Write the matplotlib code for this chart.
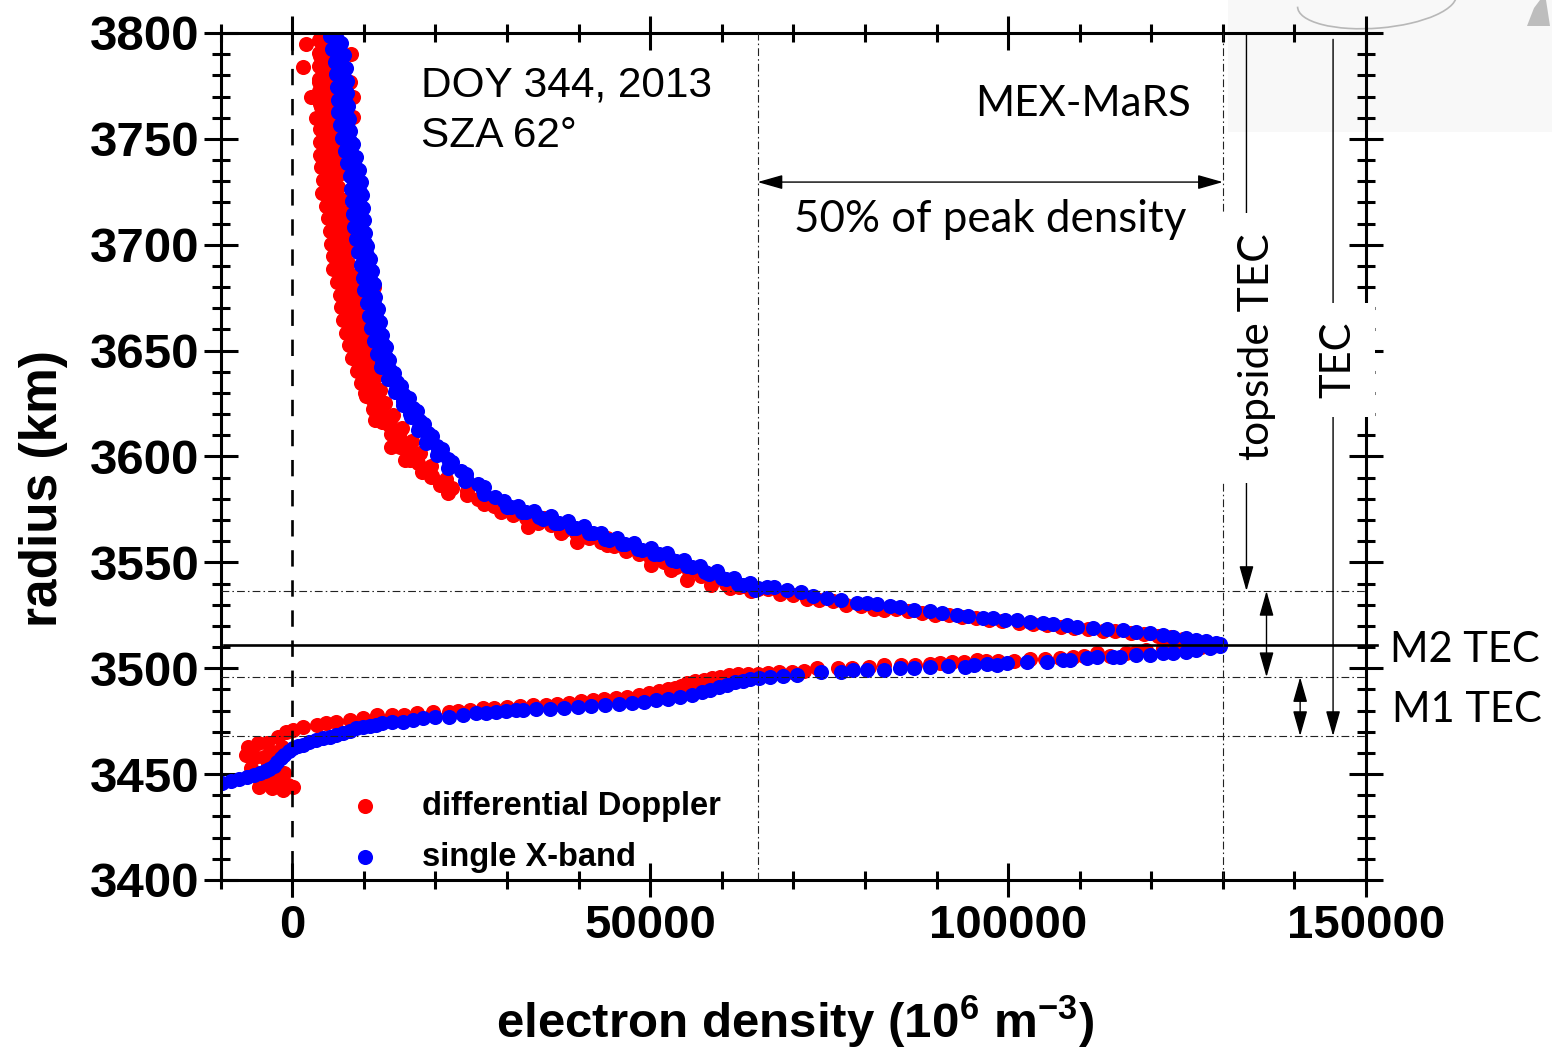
import matplotlib
matplotlib.use("Agg")
import matplotlib.pyplot as plt
from matplotlib import font_manager as fm
from matplotlib.patches import Rectangle, Arc, Polygon
from matplotlib.ticker import MultipleLocator

# ---------------------------------------------------------------------------
# Electron density profile, DOY 344 2013 (densities in units of 1000 x 10^6 m^-3)
# ---------------------------------------------------------------------------
# single X-band: topside branch (from the top of the profile down to the peak)
blue_top_n = [5.6, 6.2, 5.9, 6.6, 6.3, 7.0, 6.5, 7.2, 6.6, 7.3, 6.8, 7.5, 6.9, 7.6, 7.0, 7.8,
              7.3, 8.1, 7.6, 8.4, 8.0, 8.8, 8.4, 9.1, 8.6, 9.4, 8.8, 9.5, 8.9, 9.6, 9.0, 9.7,
              9.2, 10.1, 9.6, 10.4, 9.9, 10.7, 10.2, 11.0, 10.4, 11.2, 10.7, 11.6, 11.1, 11.9,
              11.3, 12.1, 11.8, 12.7, 12.2, 13.1, 12.6, 13.7, 13.6, 14.6, 14.5, 15.6, 15.4,
              16.8, 16.5, 17.9, 17.7, 18.9, 18.8, 20.2, 20.4, 21.8, 22.1, 23.6, 24.2, 25.9,
              26.6, 28.3,
              # interleaved samples of the same sweep
              5.3, 6.8, 5.6, 7.2, 6.0, 7.5, 6.15, 7.6, 6.25, 7.7, 6.35, 7.8, 6.45, 7.9, 6.6,
              8.1, 6.9, 8.5, 7.3, 8.9, 7.7, 9.3, 8.05, 9.55, 8.25, 9.75, 8.4, 9.85, 8.5, 9.95,
              8.6, 10.1, 8.9, 10.5, 9.25, 10.8, 9.55, 11.1, 9.85, 11.35, 10.05, 11.6, 10.4,
              12.0, 10.75, 12.25, 10.95, 12.55, 11.45, 13.1, 11.9, 13.5, 12.4, 14.25, 13.35,
              15.25, 14.35, 16.25, 15.4, 17.4, 16.55, 18.45, 17.5, 19.45, 18.75, 20.9, 20.25,
              22.35, 21.8, 24.3, 24.15, 26.85, 26.8,
              # knee and steep descent
              29.6, 30.5, 31.5, 32.6, 33.8, 35.0, 36.1, 37.2, 38.5, 39.7, 40.8, 42.0, 43.1,
              44.3, 45.4, 46.5, 47.7, 48.9, 50.1, 51.2, 52.4, 53.6, 54.7, 55.8, 57.0, 58.2,
              59.4, 60.6, 61.7, 62.9, 64.0, 65.1,
              30.0, 32.1, 34.4, 36.7, 39.1, 41.4, 43.7, 46.0, 48.3, 50.6, 53.0, 55.2, 57.6,
              60.0, 62.3, 64.6,
              # flat part towards the peak
              66.3, 67.3, 69.1, 71.0, 72.8, 74.7, 76.6, 78.9, 80.3, 81.7, 83.5, 84.9, 86.8,
              89.1, 90.7, 92.8, 94.4, 96.5, 97.9, 99.5, 101.2, 103.1, 104.9, 106.3, 108.2,
              109.6, 111.9, 113.8, 116.1, 117.9, 119.8, 121.7, 123.1, 124.9, 126.3, 127.7,
              129.1, 129.6]
blue_top_r = [3799.5, 3797, 3794, 3791, 3788, 3785, 3782, 3779, 3776, 3773, 3770, 3767, 3764,
              3761, 3758, 3755, 3752, 3749, 3746, 3743, 3740, 3737, 3734, 3731, 3728, 3725,
              3722, 3719, 3716, 3713, 3710, 3707, 3704, 3701, 3698, 3695, 3692, 3689, 3686,
              3683, 3680, 3677, 3674, 3671, 3668, 3665, 3662, 3659, 3656, 3653, 3650, 3647,
              3644, 3641, 3638, 3635, 3632, 3629, 3626, 3623, 3620, 3617, 3614, 3611, 3608,
              3605, 3602, 3599, 3596, 3593, 3590, 3587, 3584, 3581,
              3798.5, 3795.5, 3792.5, 3789.5, 3786.5, 3783.5, 3780.5, 3777.5, 3774.5, 3771.5,
              3768.5, 3765.5, 3762.5, 3759.5, 3756.5, 3753.5, 3750.5, 3747.5, 3744.5, 3741.5,
              3738.5, 3735.5, 3732.5, 3729.5, 3726.5, 3723.5, 3720.5, 3717.5, 3714.5, 3711.5,
              3708.5, 3705.5, 3702.5, 3699.5, 3696.5, 3693.5, 3690.5, 3687.5, 3684.5, 3681.5,
              3678.5, 3675.5, 3672.5, 3669.5, 3666.5, 3663.5, 3660.5, 3657.5, 3654.5, 3651.5,
              3648.5, 3645.5, 3642.5, 3639.5, 3636.5, 3633.5, 3630.5, 3627.5, 3624.5, 3621.5,
              3618.5, 3615.5, 3612.5, 3609.5, 3606.5, 3603.5, 3600.5, 3597.5, 3594.5, 3591.5,
              3588.5, 3585.5, 3582.5,
              3578.9, 3576.2, 3576.5, 3573.6, 3574.1, 3570.7, 3571.8, 3568.8, 3569.4, 3566.2,
              3567.1, 3563.7, 3563.9, 3560.5, 3561.6, 3558.6, 3559.2, 3555.9, 3556.9, 3553.8,
              3554.5, 3550.8, 3551.3, 3548.0, 3548.2, 3544.7, 3545.8, 3542.3, 3542.7, 3539.4,
              3540.3, 3537.9,
              3576.0, 3573.6, 3571.2, 3568.8, 3566.4, 3563.7, 3560.9, 3558.5, 3556.3, 3553.9,
              3551.1, 3548.1, 3545.3, 3542.7, 3539.6, 3537.1,
              3538.5, 3538.2, 3536.9, 3536.0, 3534.2, 3533.2, 3532.4, 3530.9, 3530.8, 3530.5,
              3529.4, 3528.7, 3527.7, 3527.0, 3526.0, 3525.2, 3524.9, 3523.6, 3523.5, 3522.7,
              3522.6, 3521.9, 3521.2, 3521.0, 3520.4, 3519.5, 3518.8, 3518.3, 3518.0, 3517.3,
              3516.8, 3515.7, 3514.9, 3514.1, 3513.3, 3512.9, 3512.1, 3511.3]

# single X-band: bottomside branch (from the peak down to the lowest radius)
blue_bot_n = [129.6, 128.2, 126.3, 124.9, 123.0, 121.7, 119.8, 117.9, 115.6, 114.7, 112.4,
              111.0, 108.6, 107.7, 105.4, 102.6, 99.8, 98.4, 97.0, 95.2, 94.0, 91.6, 89.1,
              86.8, 84.9, 82.6, 80.3, 78.4, 76.6, 73.8, 70.5, 68.5, 66.8, 65.2, 64.0, 62.9,
              61.9, 60.8, 59.6, 58.4, 57.2, 55.8, 54.2, 52.5, 50.8, 49.1, 47.4, 45.6, 43.7,
              41.8, 39.9, 38.0, 36.0, 34.1, 32.2, 31.2, 29.9, 28.5, 27.1, 25.7, 23.8, 21.9,
              20.0, 18.2, 16.8, 15.4, 14.0, 12.6, 11.7, 10.8, 9.9, 8.9, 8.0, 7.1, 6.1, 5.2,
              4.3, 3.35, 2.4, 1.5, 0.8, 0.1, -0.5, -1.1, -1.6, -2.1, -2.6, -3.2, -3.8, -4.5,
              -5.3, -6.3, -7.4, -8.6, -9.8]
blue_bot_r = [3510.6, 3509.4, 3508.7, 3507.9, 3507.4, 3507.1, 3506.3, 3506.3, 3505.2, 3505.5,
              3505.3, 3504.7, 3503.9, 3503.9, 3503.1, 3503.1, 3502.3, 3501.7, 3501.8, 3501.3,
              3500.8, 3500.9, 3500.8, 3500.0, 3500.0, 3499.2, 3499.2, 3499.2, 3498.4, 3498.4,
              3496.8, 3496.3, 3496.0, 3495.3, 3494.8, 3494.0, 3493.3, 3492.3, 3491.0, 3489.8,
              3488.8, 3487.6, 3486.6, 3485.6, 3484.8, 3484.0, 3483.6, 3483.0, 3482.5, 3482.1,
              3481.6, 3481.4, 3480.9, 3480.6, 3480.4, 3480.3, 3479.9, 3479.5, 3479.1, 3478.7,
              3477.9, 3477.1, 3476.8, 3476.4, 3475.6, 3474.8, 3474.4, 3474.0, 3473.3, 3472.7,
              3472.2, 3471.6, 3470.5, 3469.3, 3468.5, 3467.7, 3466.9, 3466.1, 3465.0, 3463.8,
              3463.2, 3462.2, 3460.8, 3459.2, 3457.5, 3455.6, 3454.0, 3452.6, 3451.4, 3450.3,
              3449.4, 3448.5, 3447.5, 3446.6, 3445.8]

# differential Doppler: topside branch
red_top_n = [4.0, 5.0, 4.2, 5.3, 3.9, 4.8, 4.1, 5.2, 3.8, 4.9, 4.3, 5.4, 4.0, 5.0, 4.5, 5.7,
             4.3, 5.3, 4.6, 5.8, 4.2, 5.4, 4.8, 6.0, 4.9, 5.6, 5.0, 6.3, 5.4, 6.6, 5.6, 6.9,
             5.9, 7.0, 6.1, 7.3, 6.3, 7.1, 6.6, 7.8, 6.9, 8.1, 7.3, 8.4, 7.4, 8.7, 7.8, 9.0,
             8.2, 9.4, 8.7, 9.9, 9.1, 10.4, 9.8, 11.0, 10.4, 11.8, 11.1, 12.6, 12.2, 13.8,
             13.5, 15.0, 14.9, 16.3, 16.0, 17.4, 17.6, 19.0, 19.5, 21.2, 22.3, 24.4, 25.9,
             # interleaved samples of the same sweep
             3.8, 5.8, 3.8, 5.5, 3.7, 5.7, 3.7, 5.5, 3.8, 5.9, 3.9, 5.6, 3.9, 6.2, 3.9, 5.9,
             3.85, 6.3, 3.9, 5.9, 4.0, 6.5, 4.35, 6.35, 4.2, 6.75, 4.75, 7.1, 5.0, 7.35, 5.3,
             7.55, 5.45, 7.8, 5.7, 7.8, 5.75, 8.3, 6.25, 8.6, 6.6, 8.95, 6.8, 9.15, 7.15, 9.5,
             7.5, 9.9, 7.95, 10.4, 8.4, 10.85, 9.0, 11.5, 9.6, 12.2, 10.35, 12.95, 11.3, 14.1,
             12.55, 15.35, 13.85, 16.7, 15.05, 17.8, 16.4, 19.4, 18.15, 21.45, 20.65, 24.45,
             # isolated samples
             1.9, 1.5, 2.6, 3.3, 8.2, 8.0, 8.5, 8.5, 11.4,
             10.1, 11.5, 13.8, 15.7, 19.4, 21.7,
             # knee and steep descent
             26.8, 28.2, 30.0, 31.8, 33.5, 35.2, 37.0, 38.8, 40.5, 42.3, 44.0, 45.8, 47.5,
             49.3, 51.0, 52.8, 54.5, 56.3, 58.0, 59.8, 61.5, 63.3, 65.0,
             29.1, 30.9, 32.6, 34.3, 36.1, 37.9, 39.6, 41.4, 43.1, 44.9, 46.6, 48.4, 50.1,
             51.9, 53.6, 55.4, 57.1, 58.9, 60.6, 62.4, 64.1,
             32.9, 37.5, 39.8, 44.0, 50.1, 52.9, 55.2, 58.5, 61.2,
             # flat part towards the peak
             66.5, 68.2, 70.0, 71.9, 73.6, 75.6, 77.4, 79.5, 81.2, 82.6, 84.3, 86.0, 88.0,
             89.8, 91.8, 93.6, 95.5, 97.4, 99.2, 101.5, 103.5, 105.5, 107.4, 109.2, 111.2,
             113.2, 115.0, 117.2, 119.0, 121.0, 122.8, 124.4, 126.0, 127.6, 129.0]
red_top_r = [3799, 3798, 3795, 3792, 3789, 3786, 3783, 3780, 3777, 3774, 3771, 3768, 3765,
             3762, 3759, 3756, 3753, 3750, 3747, 3744, 3741, 3738, 3735, 3732, 3729, 3726,
             3723, 3720, 3717, 3714, 3711, 3708, 3705, 3702, 3699, 3696, 3693, 3690, 3687,
             3684, 3681, 3678, 3675, 3672, 3669, 3666, 3663, 3660, 3657, 3654, 3651, 3648,
             3645, 3642, 3639, 3636, 3633, 3630, 3627, 3624, 3621, 3618, 3615, 3612, 3609,
             3606, 3603, 3600, 3597, 3594, 3591, 3588, 3585, 3582, 3580,
             3796.5, 3793.5, 3790.5, 3787.5, 3784.5, 3781.5, 3778.5, 3775.5, 3772.5, 3769.5,
             3766.5, 3763.5, 3760.5, 3757.5, 3754.5, 3751.5, 3748.5, 3745.5, 3742.5, 3739.5,
             3736.5, 3733.5, 3730.5, 3727.5, 3724.5, 3721.5, 3718.5, 3715.5, 3712.5, 3709.5,
             3706.5, 3703.5, 3700.5, 3697.5, 3694.5, 3691.5, 3688.5, 3685.5, 3682.5, 3679.5,
             3676.5, 3673.5, 3670.5, 3667.5, 3664.5, 3661.5, 3658.5, 3655.5, 3652.5, 3649.5,
             3646.5, 3643.5, 3640.5, 3637.5, 3634.5, 3631.5, 3628.5, 3625.5, 3622.5, 3619.5,
             3616.5, 3613.5, 3610.5, 3607.5, 3604.5, 3601.5, 3598.5, 3595.5, 3592.5, 3589.5,
             3586.5, 3583.5,
             3795, 3784, 3770, 3760, 3790, 3777, 3770, 3760.5, 3680,
             3629.8, 3617.2, 3604.6, 3598.3, 3590.5, 3582.6,
             3577.8, 3576.5, 3575.0, 3573.8, 3571.6, 3570.8, 3568.4, 3567.0, 3564.9, 3562.6,
             3561.3, 3558.8, 3557.5, 3555.0, 3553.8, 3551.5, 3549.6, 3547.0, 3545.0, 3542.8,
             3541.0, 3539.0, 3537.4,
             3574.0, 3572.5, 3571.0, 3568.8, 3567.6, 3565.4, 3563.8, 3561.6, 3559.6, 3557.8,
             3555.6, 3553.8, 3551.6, 3550.0, 3548.0, 3546.0, 3543.8, 3541.8, 3540.0, 3538.2,
             3536.4,
             3566.9, 3563.7, 3559.8, 3558.2, 3548.8, 3546.4, 3541.7, 3539.3, 3537.7,
             3537.2, 3535.3, 3534.6, 3532.6, 3532.3, 3531.8, 3529.8, 3529.6, 3528.0, 3527.5,
             3527.9, 3526.9, 3526.3, 3525.2, 3525.0, 3524.2, 3523.9, 3522.8, 3522.5, 3521.6,
             3521.0, 3520.5, 3519.6, 3519.2, 3518.4, 3517.7, 3517.5, 3516.6, 3516.2, 3515.2,
             3514.6, 3513.6, 3513.0, 3512.2, 3511.6]

# differential Doppler: bottomside branch and the scattered points near zero density
red_bot_n = [128.6, 127.0, 125.3, 123.5, 121.7, 119.3, 117.8, 116.5, 114.3, 112.4, 110.6,
             109.1, 107.3, 105.2, 103.0, 100.8, 98.6, 96.9, 95.6, 93.8, 92.1, 90.5, 89.1,
             87.0, 85.0, 82.6, 80.6, 78.2, 76.3, 73.3, 71.5, 69.8, 68.0, 66.5, 65.0, 63.6,
             62.3, 61.0, 59.8, 58.6, 57.5, 56.3, 55.2, 54.3, 53.4, 52.5, 51.3, 49.8, 48.4,
             46.8, 45.2, 43.6, 42.0, 40.4, 38.6, 37.0, 35.4, 33.6, 31.8, 30.0, 28.2, 26.6,
             24.8, 23.2, 21.9, 19.6, 17.4, 15.6, 14.0, 11.8, 9.9, 8.0, 6.1, 4.7, 3.4, 1.5,
             0.1, -0.84, -2.0,
             -6.2, -6.4, -5.7, -4.6, -2.9, -1.3, 0.1, -2.7, -3.6, -5.25, -4.8, -3.9, -3.4,
             -1.1, -5.0, -4.1, -2.0, -0.6, -2.9, -1.5]
red_bot_r = [3510.7, 3510.2, 3509.8, 3509.6, 3509.4, 3508.7, 3507.8, 3507.1, 3505.9, 3507.0,
             3506.0, 3505.5, 3504.7, 3504.6, 3504.2, 3503.6, 3503.3, 3503.6, 3504.0, 3502.8,
             3503.1, 3502.4, 3502.2, 3501.4, 3501.7, 3501.5, 3500.4, 3500.2, 3499.9, 3499.9,
             3498.7, 3498.3, 3498.4, 3497.8, 3497.2, 3497.5, 3497.4, 3496.6, 3496.0, 3495.4,
             3494.6, 3493.8, 3492.8, 3491.8, 3490.8, 3490.0, 3489.2, 3488.2, 3487.4, 3486.5,
             3485.8, 3485.3, 3484.9, 3484.4, 3483.6, 3483.1, 3482.7, 3482.7, 3482.4, 3481.8,
             3481.4, 3481.1, 3480.5, 3479.9, 3479.5, 3479.4, 3478.7, 3478.1, 3477.9, 3477.7,
             3476.4, 3475.6, 3474.8, 3474.0, 3473.2, 3472.4, 3470.9, 3470.0, 3467.7,
             3462.9, 3459.0, 3452.7, 3444.0, 3443.3, 3442.5, 3444.0, 3449.6, 3464.6, 3458.2,
             3464.6, 3458.2, 3455.1, 3450.4, 3450.4, 3447.2, 3446.4, 3444.9, 3460.6, 3462.9]

series_labels = ["differential Doppler", "single X-band"]

# reference levels (radius in km, density in 10^6 m^-3)
peak_density = 130000
half_peak_density = 65000
peak_radius = 3511.0
topside_limit_radius = 3536.5
m1_m2_boundary_radius = 3495.8
bottom_limit_radius = 3468.0

x_ticks = [0, 50000, 100000, 150000]
x_tick_labels = ["0", "50000", "100000", "150000"]
y_ticks = [3400, 3450, 3500, 3550, 3600, 3650, 3700, 3750, 3800]
y_tick_labels = [str(v) for v in y_ticks]

# ---------------------------------------------------------------------------
names = {f.name for f in fm.fontManager.ttflist}
SANS = "Liberation Sans"
HAS_NARROW = "Liberation Sans Narrow" in names
NARROW = "Liberation Sans Narrow" if HAS_NARROW else SANS
SOFT = "Lato" if "Lato" in names else "Open Sans"

plt.rcParams["font.family"] = [SANS, "DejaVu Sans"]
plt.rcParams["mathtext.fontset"] = "custom"
plt.rcParams["mathtext.rm"] = SANS
plt.rcParams["mathtext.bf"] = SANS + ":bold"

W, H = 1552, 1050
fig = plt.figure(figsize=(W / 100, H / 100), dpi=100)
fig.patch.set_facecolor("white")

# faint grey scrap at the top right corner of the sheet
fig.add_artist(Rectangle((1228 / W, 1 - 132 / H), (W - 1228) / W, 132 / H,
                         transform=fig.transFigure, facecolor="#f8f8f8",
                         edgecolor="none", zorder=-1))
fig.add_artist(Arc((1377 / W, 1 - 1 / H), 160 / W, 54 / H, angle=8,
                   theta1=178, theta2=360, transform=fig.transFigure,
                   color="#b8b8b8", lw=1.2, zorder=-0.5))
fig.add_artist(Polygon([(1527 / W, 1 - 26 / H), (1534 / W, 1 - 8 / H), (1540 / W, 1.0),
                        (1546 / W, 1.0), (1550 / W, 1 - 26 / H)],
                       closed=True, transform=fig.transFigure, facecolor="#bdbdbd",
                       edgecolor="none", zorder=-0.5))

ax = fig.add_axes([220.7 / W, 1 - 880 / H, (1366 - 220.7) / W, (880 - 33) / H])
ax.set_facecolor("none")

K = 1000.0
red_n = [v * K for v in red_top_n + red_bot_n]
red_r = red_top_r + red_bot_r
blue_n = [v * K for v in blue_top_n + blue_bot_n]
blue_r = blue_top_r + blue_bot_r

h_red = ax.scatter(red_n, red_r, s=118, c="#ff0000", linewidths=0, zorder=2,
                   label=series_labels[0])
h_blue = ax.scatter(blue_n, blue_r, s=118, c="#0000ff", linewidths=0, zorder=2.2,
                    label=series_labels[1])

ax.set_xlim(-10000, 150000)
ax.set_ylim(3400, 3800)

# reference lines
dashdot = (0, (7.0, 2.8, 1.4, 2.8))
ax.plot([-9500, 151500], [peak_radius] * 2, color="black", lw=1.9, zorder=4, clip_on=False)
for rr in (topside_limit_radius, m1_m2_boundary_radius, bottom_limit_radius):
    ax.plot([-10000, 150000], [rr, rr], color="#222222", lw=0.8, ls=dashdot, zorder=4)
for xx in (half_peak_density, peak_density):
    ax.plot([xx, xx], [3400, 3800], color="#222222", lw=0.8, ls=dashdot, zorder=4)
ax.plot([0, 0], [3392, 3800], color="black", lw=1.9, ls=(0, (6.2, 5.2)), zorder=4,
        clip_on=False)


def arrow(x0, y0, x1, y1, both=False):
    style = "<|-|>" if both else "-|>"
    ax.annotate("", xy=(x1, y1), xytext=(x0, y0),
                arrowprops=dict(arrowstyle=f"{style},head_length=15.5,head_width=4.4",
                                mutation_scale=1, lw=1.0, color="black",
                                shrinkA=0, shrinkB=0), zorder=4)


arrow(half_peak_density, 3729.6, peak_density, 3729.6, both=True)
arrow(133300, 3799.5, 133300, topside_limit_radius)
arrow(136100, topside_limit_radius, 136100, m1_m2_boundary_radius, both=True)
arrow(140800, m1_m2_boundary_radius, 140800, bottom_limit_radius, both=True)
arrow(145400, 3797, 145400, bottom_limit_radius)

# white panels behind the vertical labels
ax.add_patch(Rectangle((128700, 3587.5), 10600, 127.5, facecolor="white",
                       edgecolor="none", zorder=5, clip_on=False))
ax.add_patch(Rectangle((141400, 3618.6), 9800, 53.9, facecolor="white",
                       edgecolor="none", zorder=5, clip_on=False))

# annotations
info_size = 35 if HAS_NARROW else 30.5
ax.text(18000, 3769.8, "DOY 344, 2013", fontsize=info_size, family=NARROW,
        va="baseline", ha="left", zorder=6)
ax.text(18000, 3746.2, "SZA 62°", fontsize=info_size, family=NARROW, va="baseline",
        ha="left", zorder=6)
ax.text(95400, 3760.8, "MEX-MaRS", fontsize=30.3, family=SOFT, va="baseline",
        ha="left", zorder=6)
ax.text(97500, 3706.0, "50% of peak density", fontsize=31.6, family=SOFT,
        va="baseline", ha="center", zorder=6)
ax.text(134800, 3651.7, "topside TEC", fontsize=30.6, family=SOFT, rotation=90,
        ha="center", va="center", zorder=6, clip_on=False)
ax.text(146100, 3645.6, "TEC", fontsize=30, family=SOFT, rotation=90,
        ha="center", va="center", zorder=6, clip_on=False)
ax.text(153300, 3502.9, "M2 TEC", fontsize=30, family=SOFT, va="baseline",
        ha="left", zorder=6, clip_on=False)
ax.text(153700, 3474.6, "M1 TEC", fontsize=30, family=SOFT, va="baseline",
        ha="left", zorder=6, clip_on=False)

# axes styling
for sp in ax.spines.values():
    sp.set_linewidth(2.2)
ax.set_xticks(x_ticks, x_tick_labels, fontsize=34, fontweight="bold")
ax.set_yticks(y_ticks, y_tick_labels, fontsize=35.5, fontweight="bold")
ax.xaxis.set_minor_locator(MultipleLocator(10000))
ax.yaxis.set_minor_locator(MultipleLocator(10))
ax.tick_params(which="major", direction="inout", length=25, width=2.2,
               top=True, right=True)
ax.tick_params(which="minor", direction="inout", length=13.5, width=2.2,
               top=True, right=True)
ax.tick_params(axis="x", which="major", pad=5)
ax.tick_params(axis="y", which="major", pad=3)

ax.set_xlabel(r"electron density (10$^{\mathbf{6}}$ m$^{\mathbf{-3}}$)", fontsize=35.5,
              fontweight="bold")
ax.set_ylabel("radius (km)", fontsize=37, fontweight="bold")
ax.xaxis.set_label_coords(0.5014, -0.134)
ax.yaxis.set_label_coords(-0.133, 0.4616)

if HAS_NARROW:
    leg_kw = dict(bbox_to_anchor=(0.1093, 0.109), handletextpad=0.94, labelspacing=0.165,
                  prop=dict(family=NARROW, weight="bold", size=27.5))
else:
    leg_kw = dict(bbox_to_anchor=(0.1121, 0.105), handletextpad=1.22, labelspacing=0.61,
                  prop=dict(family=SANS, weight="bold", size=23.5))
leg = ax.legend(handles=[h_red, h_blue], labels=series_labels, loc="upper left",
                frameon=False, borderpad=0, borderaxespad=0, handlelength=1.0,
                scatterpoints=1, **leg_kw)

fig.savefig("out.png", dpi=100)
